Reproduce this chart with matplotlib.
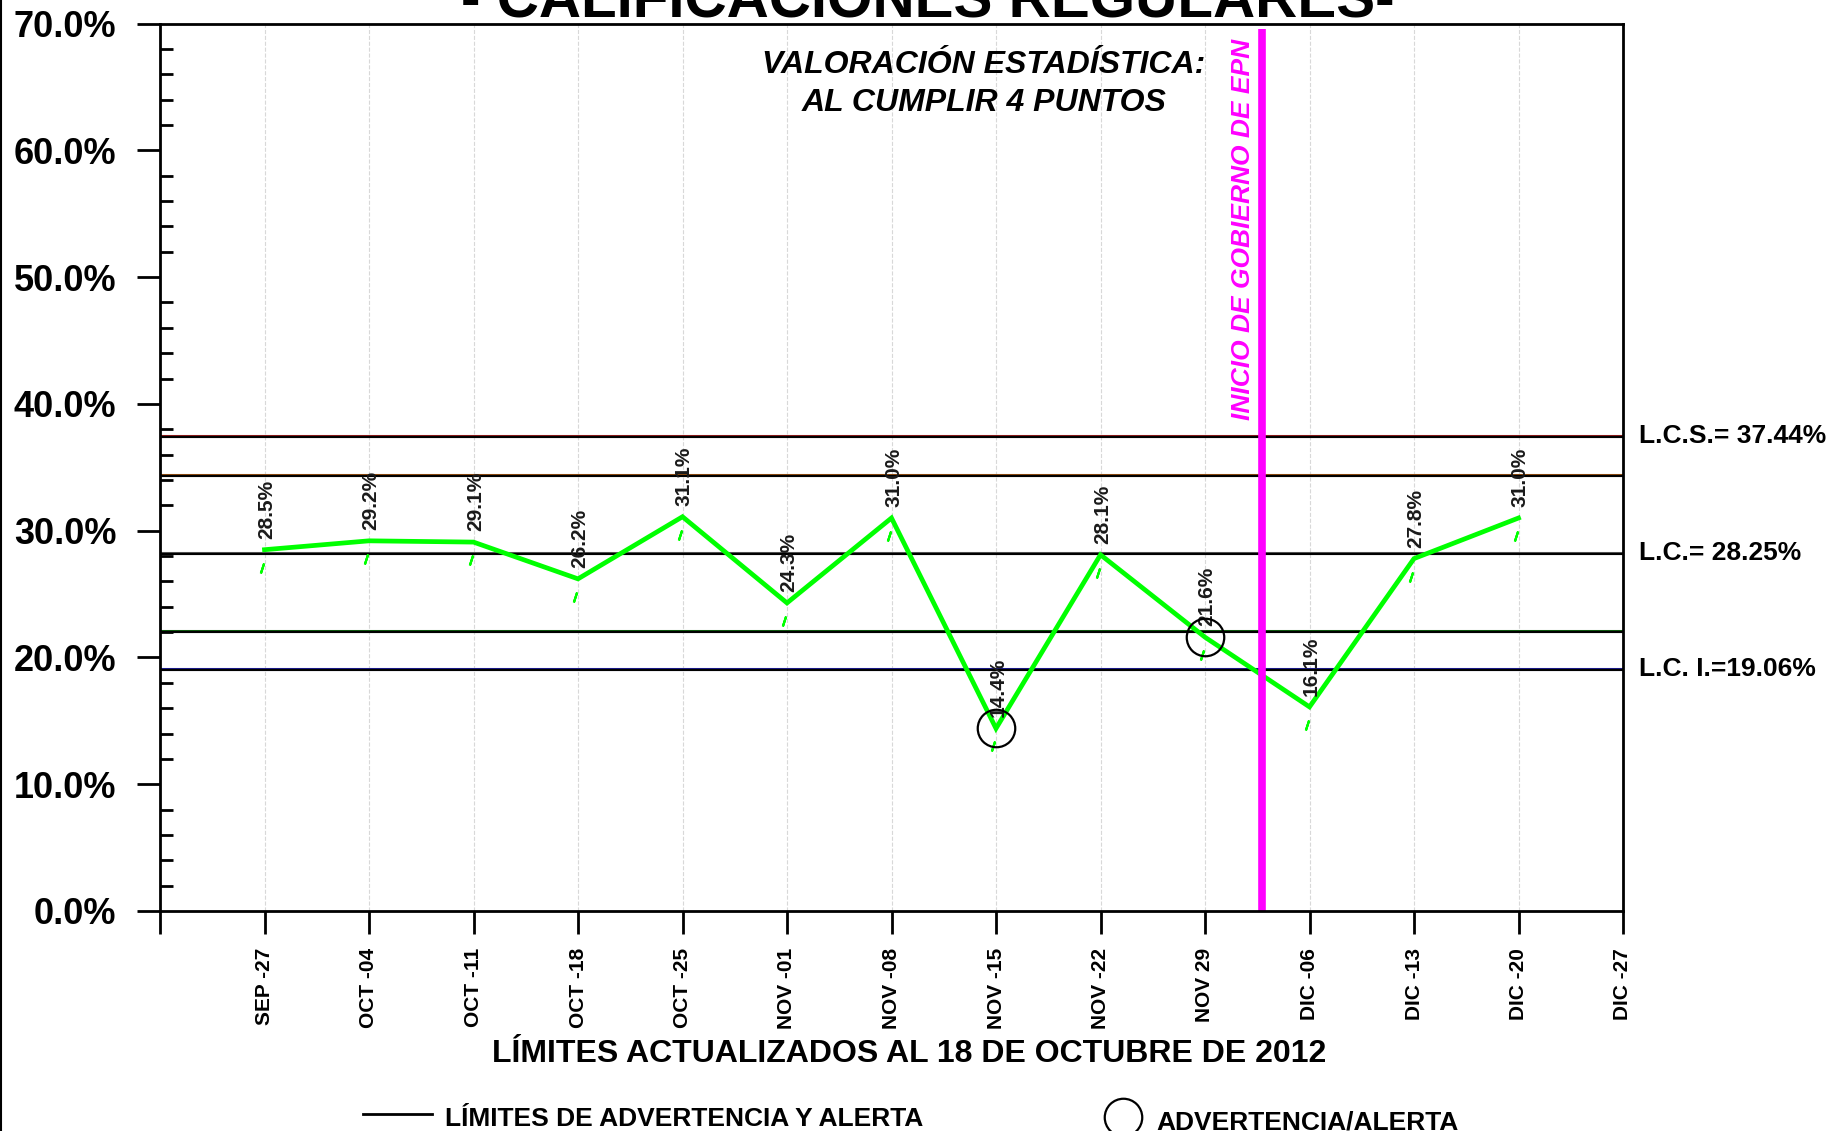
import matplotlib
matplotlib.use("Agg")
import matplotlib.pyplot as plt
from matplotlib.lines import Line2D
from matplotlib.ticker import MultipleLocator
from matplotlib.transforms import offset_copy

plt.rcParams['font.family'] = ['Liberation Sans', 'DejaVu Sans']

# datos semanales
semanas = ["SEP -27", "OCT -04", "OCT -11", "OCT -18", "OCT -25", "NOV -01", "NOV -08",
           "NOV -15", "NOV -22", "NOV 29", "DIC -06", "DIC -13", "DIC -20", "DIC -27"]
porcentajes = [28.5, 29.2, 29.1, 26.2, 31.1, 24.3, 31.0, 14.4, 28.1, 21.6, 16.1, 27.8, 31.0]
alertas = [7, 9]  # indices con advertencia/alerta

# limites de control
lcs = 37.44
lc = 28.25
lci = 19.06
adv_sup = lc + 2 * (lcs - lc) / 3
adv_inf = lc - 2 * (lc - lci) / 3
inicio_epn = 10.55

W, H = 1830, 1131
fig = plt.figure(figsize=(W / 100, H / 100), dpi=100)
ax = fig.add_axes([160 / W, 1 - 911 / H, (1623 - 160) / W, (911 - 23.6) / H])

x = list(range(1, len(porcentajes) + 1))

# lineas horizontales (borde de color + linea negra)
lineas = [(lcs, '#8b1a1a'), (adv_sup, '#8b4a10'), (lc, '#555555'), (adv_inf, '#0f5a0f'), (lci, '#1a1a8b')]
baja = offset_copy(ax.get_yaxis_transform(), fig=fig, x=0, y=-1, units='dots')
for val, col in lineas:
    ax.axhline(val, color=col, lw=2.2, zorder=2)
    ax.plot([0, 1], [val, val], color='black', lw=1.5, transform=baja, zorder=2.1)

ax.plot(x, porcentajes, color='#00ff00', lw=3.4, zorder=4, solid_joinstyle='miter')

# marcas verdes bajo cada punto
trans_marca = offset_copy(ax.transData, fig=fig, x=-3, y=-18, units='dots')
ax.plot(x, porcentajes, ls='none', marker=(2, 2, -18), ms=7.5, mec='#00ff00', mew=1.6,
        transform=trans_marca, zorder=4)

for xi, v in zip(x, porcentajes):
    ax.annotate(f"{v:.1f}%", (xi, v), xytext=(2, 11), textcoords='offset pixels',
                rotation=90, ha='center', va='bottom', fontsize=15, fontweight='bold',
                color='#1a1a1a', zorder=6)

ax.plot([x[i] for i in alertas], [porcentajes[i] for i in alertas], ls='none', marker='o',
        ms=27, mfc='none', mec='black', mew=1.6, zorder=7)

# inicio de gobierno
ax.vlines(inicio_epn, 0, 69.6, colors='#ff00ff', lw=5.5, zorder=8)
ax.text(inicio_epn - 0.07, 68.8, "INICIO DE GOBIERNO DE EPN", rotation=90, ha='right', va='top',
        color='#ff00ff', fontsize=19, fontweight='bold', style='italic', zorder=8)

ax.set_xlim(0, 14)
ax.set_ylim(0, 70)
ax.set_xticks(range(0, 15))
ax.set_xticklabels([''] + semanas, rotation=90, fontsize=15, fontweight='bold')
ax.set_yticks(range(0, 71, 10))
ax.set_yticklabels([f"{v:.1f}%" for v in range(0, 71, 10)], fontsize=26, fontweight='bold')
ax.yaxis.set_minor_locator(MultipleLocator(2))
ax.tick_params(axis='x', direction='out', length=16.5, width=2, pad=10)
ax.tick_params(axis='y', which='major', direction='out', length=16.5, width=2, pad=15)
ax.tick_params(axis='y', which='minor', direction='in', length=9, width=2)
ax.grid(axis='x', color='#d8d8d8', linestyle='--', linewidth=0.8, zorder=1)
for s in ax.spines.values():
    s.set_linewidth(2)
    s.set_zorder(9)

# etiquetas de limites
tx = 14.15
ax.text(tx, lcs, f"L.C.S.= {lcs:.2f}%", ha='left', va='center', fontsize=19, fontweight='bold', clip_on=False)
ax.text(tx, lc, f"L.C.= {lc:.2f}%", ha='left', va='center', fontsize=19, fontweight='bold', clip_on=False)
ax.text(tx, lci, f"L.C. I.={lci:.2f}%", ha='left', va='center', fontsize=19, fontweight='bold', clip_on=False)

# textos
fig.text(928 / W, 1 - 18 / H, "- CALIFICACIONES REGULARES-", ha='center', va='baseline',
         fontsize=42, fontweight='bold')
fig.text(984 / W, 1 - 73 / H, "VALORACIÓN ESTADÍSTICA:", ha='center', va='baseline',
         fontsize=23, fontweight='bold', style='italic')
fig.text(984 / W, 1 - 111 / H, "AL CUMPLIR 4 PUNTOS", ha='center', va='baseline',
         fontsize=23, fontweight='bold', style='italic')
fig.text(909 / W, 1 - 1062 / H, "LÍMITES ACTUALIZADOS AL 18 DE OCTUBRE DE 2012", ha='center',
         va='baseline', fontsize=23, fontweight='bold')

# leyenda
fig.add_artist(Line2D([363 / W, 432 / W], [1 - 1114 / H] * 2, color='black', lw=2, transform=fig.transFigure))
fig.text(445 / W, 1 - 1126 / H, "LÍMITES DE ADVERTENCIA Y ALERTA", ha='left', va='baseline',
         fontsize=19, fontweight='bold')
fig.add_artist(Line2D([1123 / W], [1 - 1117 / H], marker='o', ms=27, mfc='none', mec='black', mew=1.6,
                      transform=fig.transFigure))
fig.text(1156 / W, 1 - 1130 / H, "ADVERTENCIA/ALERTA", ha='left', va='baseline',
         fontsize=19, fontweight='bold')

# borde izquierdo
fig.add_artist(Line2D([1 / W, 1 / W], [0, 1], color='black', lw=1.5, transform=fig.transFigure))

fig.savefig("out.png", dpi=100)
